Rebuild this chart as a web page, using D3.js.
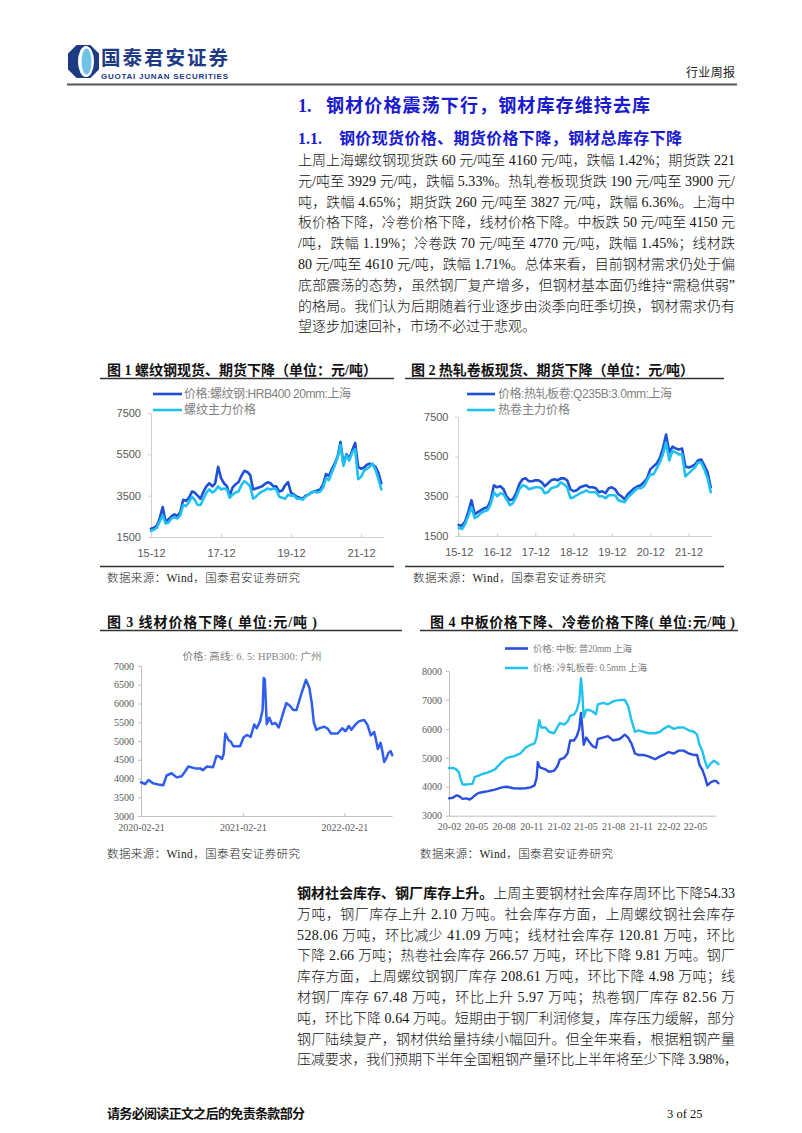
<!DOCTYPE html>
<html><head><meta charset="utf-8">
<script src="https://cdn.jsdelivr.net/npm/d3@7/dist/d3.min.js"></script>
<style>html,body{margin:0;padding:0;background:#fff;}svg{display:block;}</style>
</head><body>
<svg id="page" width="802" height="1133"></svg>
<script>
// ================= DATA =================
// Charts 1 & 2: monthly readings, Dec 2015 .. Jul 2022
const monthlyStart = "2015-12";
const rebarSpot = [1900,1950,2050,2400,2950,2250,2350,2500,2600,2500,2700,3300,
  3250,3400,3700,3650,3500,3350,3700,3950,4100,3950,4100,4900,
  4350,4100,3950,3500,3900,4050,4150,4450,4700,4650,4500,3800,
  3850,3900,3950,4050,4150,4100,3950,3950,3700,3750,4000,4150,
  3650,3550,3450,3400,3350,3500,3550,3650,3700,3750,3800,4050,
  4550,4450,4800,5050,5400,6100,5000,5500,5300,5700,6050,4900,
  4800,4850,5000,5050,5000,4900,4600,4100];
const rebarFutures = [1800,1850,1950,2250,2550,2150,2200,2400,2450,2400,2550,3050,
  3000,3200,3450,3300,3050,3050,3350,3650,3800,3650,3750,3950,
  3800,3850,3800,3400,3550,3650,3700,4000,4200,4100,3950,3350,
  3450,3600,3700,3750,3850,3800,3850,3800,3450,3400,3350,3550,
  3500,3500,3350,3350,3300,3450,3550,3650,3700,3650,3700,3900,
  4350,4250,4650,4950,5350,5950,4950,5450,5200,5600,5750,4300,
  4400,4700,4800,4900,5050,4750,4300,3800];
const hrcSpot = [2050,2000,2250,2700,3300,2600,2700,2800,2900,2950,3300,4050,
  3950,4000,3850,3500,3300,3350,3650,4100,4350,4400,4250,4250,
  4300,4300,4200,4000,4150,4300,4350,4300,4400,4400,4300,3850,
  3750,3800,3950,4000,4050,3950,3950,3900,3700,3750,3650,3900,
  3950,3850,3600,3500,3350,3600,3750,3900,4000,4050,4200,4400,
  4850,5000,5150,5400,5900,6600,5700,6000,5900,5850,5900,5000,
  4950,5000,5100,5300,5350,5050,4700,3950];
const hrcFutures = [1900,1850,2100,2500,2950,2400,2500,2650,2750,2800,3100,3700,
  3500,3650,3600,3350,3050,3150,3450,3850,4050,4000,3850,3900,
  3950,3950,3900,3650,3700,3900,3950,4000,4200,4100,3950,3400,
  3450,3550,3650,3700,3800,3700,3700,3700,3500,3500,3400,3550,
  3550,3550,3300,3250,3200,3450,3600,3750,3900,3900,4000,4300,
  4600,4600,4900,5200,5600,6200,5300,5800,5700,5600,5600,4500,
  4650,4800,4950,5200,5200,4850,4400,3700];
const chart1XTicks = ["2015-12","2017-12","2019-12","2021-12"];
const chart2XTicks = ["2015-12","2016-12","2017-12","2018-12","2019-12","2020-12","2021-12"];
const chart12YTicks = [1500,3500,5500,7500];
const chart1Legend = ["价格:螺纹钢:HRB400 20mm:上海","螺纹主力价格"];
const chart2Legend = ["价格:热轧板卷:Q235B:3.0mm:上海","热卷主力价格"];

// Chart 3: wire rod price, Guangzhou
const wireDates = ["2020-02-21","2020-03-07","2020-03-19","2020-04-05","2020-04-23","2020-05-11","2020-05-23","2020-06-10","2020-06-28","2020-07-16","2020-07-28","2020-08-09","2020-09-03","2020-09-21","2020-09-30","2020-10-15","2020-11-06","2020-11-18","2020-11-30","2020-12-08","2020-12-14","2020-12-20","2021-01-01","2021-01-09","2021-01-18","2021-02-11","2021-02-24","2021-03-08","2021-03-21","2021-04-03","2021-04-12","2021-04-24","2021-05-03","2021-05-07","2021-05-11","2021-05-18","2021-05-27","2021-06-06","2021-06-18","2021-06-30","2021-07-12","2021-07-27","2021-08-09","2021-08-21","2021-09-02","2021-09-12","2021-09-21","2021-10-06","2021-10-18","2021-10-27","2021-11-03","2021-11-12","2021-11-27","2021-12-11","2021-12-23","2022-01-04","2022-01-28","2022-02-13","2022-02-25","2022-03-09","2022-03-18","2022-04-03","2022-04-15","2022-05-03","2022-05-15","2022-05-27","2022-06-08","2022-06-14","2022-06-21","2022-07-01","2022-07-07","2022-07-14","2022-07-21","2022-07-30","2022-08-06","2022-08-12"];
const wireValues = [3900,3850,3960,3870,3840,3820,4080,4140,4030,4060,4180,4320,4270,4270,4220,4320,4300,4600,4580,4520,4650,5200,5020,4980,4860,4860,5100,5160,5110,5440,5340,5530,5820,6680,6640,5450,5620,5450,5480,5360,5650,6010,5940,5830,5830,6080,6300,6630,6420,6000,5500,5300,5350,5380,5330,5200,5200,5340,5260,5400,5300,5450,5530,5560,5430,5150,5240,5050,4790,4950,4740,4440,4530,4690,4730,4620];
const wireYTicks = [3000,3500,4000,4500,5000,5500,6000,6500,7000];
const wireXTicks = ["2020-02-21","2021-02-21","2022-02-21"];
const wireName = "价格: 高线: 6. 5: HPB300: 广州";

// Chart 4: medium plate & cold-rolled, Shanghai
const plateDates = ["2020-02-21","2020-03-05","2020-03-16","2020-03-25","2020-03-30","2020-04-06","2020-04-19","2020-04-30","2020-05-09","2020-05-17","2020-05-28","2020-06-14","2020-07-01","2020-07-23","2020-08-15","2020-09-01","2020-09-23","2020-10-16","2020-11-02","2020-11-19","2020-12-02","2020-12-09","2020-12-13","2020-12-18","2020-12-24","2021-01-08","2021-01-19","2021-02-05","2021-02-16","2021-02-25","2021-03-11","2021-03-22","2021-03-31","2021-04-13","2021-04-22","2021-04-30","2021-05-06","2021-05-10","2021-05-15","2021-05-23","2021-06-03","2021-06-14","2021-06-25","2021-07-01","2021-07-18","2021-08-04","2021-08-21","2021-09-12","2021-09-29","2021-10-10","2021-10-21","2021-11-02","2021-11-13","2021-11-30","2021-12-17","2022-01-08","2022-01-25","2022-02-05","2022-02-22","2022-03-11","2022-03-28","2022-04-13","2022-04-30","2022-05-17","2022-05-28","2022-06-05","2022-06-14","2022-06-23","2022-07-01","2022-07-12","2022-07-23","2022-07-31","2022-08-07"];
const plateValues = [3600,3620,3700,3680,3640,3580,3600,3560,3620,3700,3780,3820,3850,3900,3980,4000,3950,3940,3950,3980,4050,4300,4850,4700,4650,4600,4520,4550,4700,4950,5000,5150,5600,5600,5750,6000,6550,6100,5450,5700,5550,5400,5350,5650,5700,5750,5600,5650,5800,5700,5500,5150,5100,5100,5050,4950,5050,5100,5200,5150,5250,5250,5150,5100,5100,4750,4600,4350,4050,4150,4200,4200,4120];
const coldValues = [4650,4650,4600,4500,4300,4080,4080,4090,4100,4330,4380,4450,4500,4600,4850,5000,5050,5150,5350,5450,5500,5700,6000,6300,6050,6050,5900,5850,6050,6200,6150,6250,6450,6500,6650,6950,7750,7300,6400,6650,6650,6600,6500,6850,6900,6850,6950,7000,7000,6800,6300,5900,5950,5900,5850,5850,5900,6000,6100,6000,6050,6050,5950,5900,5800,5450,5250,4900,4650,4800,4900,4850,4780];
const chart4YTicks = [3000,4000,5000,6000,7000,8000];
const chart4XTicks = ["2020-02-21","2020-05-21","2020-08-21","2020-11-21","2021-02-21","2021-05-21","2021-08-21","2021-11-21","2022-02-21","2022-05-21"];
const chart4Legend = ["价格: 中板: 普20mm 上海","价格: 冷轧板卷: 0.5mm 上海"];

// Texts
const para1 = [
 "上周上海螺纹钢现货跌 60 元/吨至 4160 元/吨，跌幅 1.42%；期货跌 221",
 "元/吨至 3929 元/吨，跌幅 5.33%。热轧卷板现货跌 190 元/吨至 3900 元/",
 "吨，跌幅 4.65%；期货跌 260 元/吨至 3827 元/吨，跌幅 6.36%。上海中",
 "板价格下降，冷卷价格下降，线材价格下降。中板跌 50 元/吨至 4150 元",
 "/吨，跌幅 1.19%；冷卷跌 70 元/吨至 4770 元/吨，跌幅 1.45%；线材跌",
 "80 元/吨至 4610 元/吨，跌幅 1.71%。总体来看，目前钢材需求仍处于偏",
 "底部震荡的态势，虽然钢厂复产增多，但钢材基本面仍维持“需稳供弱”",
 "的格局。我们认为后期随着行业逐步由淡季向旺季切换，钢材需求仍有",
 "望逐步加速回补，市场不必过于悲观。"];
const para2Lead = "钢材社会库存、钢厂库存上升。";
const para2 = [
 "上周主要钢材社会库存周环比下降54.33",
 "万吨，钢厂库存上升 2.10 万吨。社会库存方面，上周螺纹钢社会库存",
 "528.06 万吨，环比减少 41.09 万吨；线材社会库存 120.81 万吨，环比",
 "下降 2.66 万吨；热卷社会库存 266.57 万吨，环比下降 9.81 万吨。钢厂",
 "库存方面，上周螺纹钢钢厂库存 208.61 万吨，环比下降 4.98 万吨；线",
 "材钢厂库存 67.48 万吨，环比上升 5.97 万吨；热卷钢厂库存 82.56 万",
 "吨，环比下降 0.64 万吨。短期由于钢厂利润修复，库存压力缓解，部分",
 "钢厂陆续复产，钢材供给量持续小幅回升。但全年来看，根据粗钢产量",
 "压减要求，我们预期下半年全国粗钢产量环比上半年将至少下降 3.98%，"];

// ================= DRAWING =================
const SERIF = '"Liberation Serif","Noto Sans CJK SC",serif';
const SANS = '"Liberation Sans","Noto Sans CJK SC",sans-serif';
const CJK = '"Noto Sans CJK SC",sans-serif';
const pm = d3.timeParse("%Y-%m");
const pd = d3.timeParse("%Y-%m-%d");
const svg = d3.select("#page");

function addText(parent, x, y, s, o = {}) {
  const t = parent.append("text").attr("x", x).attr("y", y).text(s)
    .style("font-family", o.family || SERIF).style("font-size", (o.size || 14) + "px")
    .style("font-weight", o.weight || 400).attr("fill", o.fill || "#111")
    .attr("text-anchor", o.anchor || "start");
  if (o.len) t.attr("textLength", o.len).attr("lengthAdjust", "spacing");
  return t;
}
function hline(x1, x2, y, color, w) {
  svg.append("line").attr("x1", x1).attr("x2", x2).attr("y1", y).attr("y2", y)
    .attr("stroke", color).attr("stroke-width", w);
}

// ---- header ----
const logo = svg.append("g");
logo.append("path").attr("d", "M77,46 L90,46 L98,54 L98,69 L90,77 L77,77 L69,69 L69,54 Z")
  .attr("fill", "#1d3a84").attr("stroke", "#1d3a84").attr("stroke-width", 2).attr("stroke-linejoin", "round");
logo.append("ellipse").attr("cx", 86).attr("cy", 61.5).attr("rx", 8).attr("ry", 15.5).attr("fill", "#fff");
logo.append("ellipse").attr("cx", 86.5).attr("cy", 61.5).attr("rx", 5).attr("ry", 13).attr("fill", "#6ec3e6");
addText(svg, 101, 64.5, "国泰君安证券", {family: CJK, size: 19.5, weight: 700, fill: "#1d3a84", len: 127});
addText(svg, 101, 78.5, "GUOTAI JUNAN SECURITIES", {family: SANS, size: 8, weight: 700, fill: "#1d3a84", len: 127});
addText(svg, 686, 77, "行业周报", {family: CJK, size: 12, fill: "#222", len: 49});
hline(67, 737, 84.5, "#555", 1.8);

// ---- headings ----
const BLUE = "#1a1ad0";
addText(svg, 298, 112, "1.", {family: SERIF, size: 18, weight: 700, fill: BLUE});
addText(svg, 326, 112, "钢材价格震荡下行，钢材库存维持去库", {family: CJK, size: 18, weight: 700, fill: BLUE, len: 324});
addText(svg, 298, 144, "1.1.", {family: SERIF, size: 16, weight: 700, fill: BLUE});
addText(svg, 339, 144, "钢价现货价格、期货价格下降，钢材总库存下降", {family: CJK, size: 16, weight: 700, fill: BLUE, len: 343});

// ---- paragraph 1 ----
para1.forEach((s, i) => {
  addText(svg, 298, 165 + i * 20.8, s, {size: 14, weight: 300, len: i < para1.length - 1 ? 437 : null});
});

// ---- chart frame texts ----
function chartFrame(o) {
  addText(svg, o.tx, o.ty, o.title, {family: SERIF, size: 14, weight: 700, fill: "#111", len: o.tlen});
  hline(o.lx1, o.lx2, o.ty + 3.5, "#333", 1.3);
  if (o.by) hline(o.lx1, o.lx2, o.by, "#333", 1.3);
  addText(svg, o.sx, o.sy, "数据来源：Wind，国泰君安证券研究", {family: SERIF, size: 11.5, weight: 300, fill: "#222", len: 193});
}
chartFrame({tx: 107, ty: 375, title: "图 1 螺纹钢现货、期货下降（单位：元/吨）", tlen: 270, lx1: 100, lx2: 394, by: 566.5, sx: 107, sy: 582});
chartFrame({tx: 411, ty: 375, title: "图 2 热轧卷板现货、期货下降（单位：元/吨）", tlen: 283, lx1: 405, lx2: 724, by: 566.5, sx: 413, sy: 582});
chartFrame({tx: 107, ty: 627, title: "图 3  线材价格下降( 单位:元/吨 )", tlen: 210, lx1: 100, lx2: 402, by: null, sx: 107, sy: 858});
chartFrame({tx: 430, ty: 627, title: "图 4 中板价格下降、冷卷价格下降( 单位:元/吨 )", tlen: 305, lx1: 420, lx2: 738, by: null, sx: 420, sy: 858});

// ---- generic time chart ----
function timeChart(o) {
  const g = svg.append("g");
  const cal = d3.scaleTime().domain(o.calDates).range(o.calX);
  const x = d3.scaleTime().domain([cal.invert(o.x0), cal.invert(o.x1)]).range([o.x0, o.x1]);
  const y = d3.scaleLinear().domain(o.yDomain).range(o.yRange);
  const xa = g.append("g").attr("transform", `translate(0,${o.yRange[0]})`)
    .call(d3.axisBottom(x).tickValues(o.xTicks).tickFormat(o.xFmt).tickSizeInner(o.xTickIn ? -3 : 0).tickSizeOuter(0));
  xa.select(".domain").attr("stroke", o.axisColor);
  xa.selectAll(".tick line").attr("stroke", o.axisColor);
  xa.selectAll("text").attr("y", o.xLabelOff).attr("dy", "0.35em").attr("fill", o.labelColor)
    .style("font-family", o.labelFont).style("font-size", o.labelSize + "px");
  const ya = g.append("g").attr("transform", `translate(${o.x0},0)`)
    .call(d3.axisLeft(y).tickValues(o.yTicks).tickFormat(d3.format("d")).tickSizeInner(3).tickSizeOuter(0).tickPadding(o.yPad));
  ya.select(".domain").attr("stroke", o.axisColor);
  ya.selectAll(".tick line").attr("stroke", o.axisColor);
  ya.selectAll("text").attr("fill", o.labelColor).style("font-family", o.labelFont).style("font-size", o.labelSize + "px");
  const ln = d3.line().x(d => x(d[0])).y(d => y(d[1]));
  o.series.forEach(s => {
    g.append("path").datum(s.dates.map((d, i) => [d, s.values[i]]))
      .attr("d", ln).attr("fill", "none").attr("stroke", s.color)
      .attr("stroke-width", s.width || 2.6).attr("stroke-linejoin", "round").attr("stroke-linecap", "round");
  });
  return g;
}

const months = d3.timeMonth.range(pm(monthlyStart), d3.timeMonth.offset(pm(monthlyStart), rebarSpot.length));
const DARK12 = "#1f4fd6", LIGHT12 = "#1fc1f2";

// Chart 1
timeChart({
  calDates: [pm("2015-12"), pm("2021-12")], calX: [151, 361], x0: 151, x1: 384,
  yDomain: [1500, 7500], yRange: [537, 413], yTicks: chart12YTicks, yPad: 7,
  xTicks: chart1XTicks.map(pm), xFmt: d3.timeFormat("%y-%m"), xTickIn: true, xLabelOff: 16,
  axisColor: "#d0d0d0", labelColor: "#595959", labelFont: SANS, labelSize: 11,
  series: [{dates: months, values: rebarSpot, color: DARK12}, {dates: months, values: rebarFutures, color: LIGHT12}]
});
// Chart 2
timeChart({
  calDates: [pm("2015-12"), pm("2021-12")], calX: [458.7, 688.5], x0: 458, x1: 712,
  yDomain: [1500, 7500], yRange: [536, 416.7], yTicks: chart12YTicks, yPad: 6.5,
  xTicks: chart2XTicks.map(pm), xFmt: d3.timeFormat("%y-%m"), xTickIn: true, xLabelOff: 16,
  axisColor: "#d0d0d0", labelColor: "#595959", labelFont: SANS, labelSize: 11,
  series: [{dates: months, values: hrcSpot, color: DARK12}, {dates: months, values: hrcFutures, color: LIGHT12}]
});
function legend(lx1, lx2, items, ys, size, lens, font, colors, tx) {
  items.forEach((s, i) => {
    svg.append("line").attr("x1", lx1).attr("x2", lx2).attr("y1", ys[i]).attr("y2", ys[i])
      .attr("stroke", colors[i]).attr("stroke-width", 2.6);
    addText(svg, tx, ys[i] + size * 0.36, s, {family: font, size: size, fill: "#7f7f7f", len: lens[i]});
  });
}
legend(153, 182, chart1Legend, [394, 410], 12, [167, 72], SANS, [DARK12, LIGHT12], 184);
legend(467, 495, chart2Legend, [394, 410], 12, [174, 72], SANS, [DARK12, LIGHT12], 498);

// Chart 3
timeChart({
  calDates: [pd("2020-02-21"), pd("2022-02-21")], calX: [141, 344.4], x0: 141, x1: 392,
  yDomain: [3000, 7000], yRange: [816, 666], yTicks: wireYTicks, yPad: 4,
  xTicks: wireXTicks.map(pd), xFmt: d3.timeFormat("%Y-%m-%d"), xTickIn: true, xLabelOff: 11,
  axisColor: "#bfbfbf", labelColor: "#595959", labelFont: SERIF, labelSize: 10,
  series: [{dates: wireDates.map(pd), values: wireValues, color: "#2f5ef0", width: 2.5}]
});
addText(svg, 252, 660, wireName, {family: SERIF, size: 10.5, fill: "#7f7f7f", anchor: "middle", len: 139});

// Chart 4
timeChart({
  calDates: [pd("2020-02-21"), pd("2022-05-21")], calX: [449, 695], x0: 449, x1: 716,
  yDomain: [3000, 8000], yRange: [815.7, 671], yTicks: chart4YTicks, yPad: 4,
  xTicks: chart4XTicks.map(pd), xFmt: d3.timeFormat("%y-%m"), xTickIn: false, xLabelOff: 11,
  axisColor: "#bfbfbf", labelColor: "#595959", labelFont: SERIF, labelSize: 10,
  series: [{dates: plateDates.map(pd), values: plateValues, color: "#2a4fe0", width: 2.4},
           {dates: plateDates.map(pd), values: coldValues, color: "#22c2ef", width: 2.4}]
});
legend(505, 528, chart4Legend, [648.5, 668], 9.5, [99, 114], SERIF, ["#2a4fe0", "#22c2ef"], 533);

// ---- paragraph 2 ----
para2.forEach((s, i) => {
  const t = svg.append("text").attr("x", 297).attr("y", 898 + i * 20.8)
    .style("font-family", SERIF).style("font-size", "14px").style("font-weight", 300).attr("fill", "#111")
    .attr("textLength", i === para2.length - 1 ? 441 : 438).attr("lengthAdjust", "spacing");
  if (i === 0) t.append("tspan").style("font-weight", 700).style("font-family", CJK).text(para2Lead);
  t.append("tspan").text(s);
});

// ---- footer ----
addText(svg, 107, 1118, "请务必阅读正文之后的免责条款部分", {family: CJK, size: 13, weight: 700, fill: "#111", len: 198});
addText(svg, 667, 1118, "3 of 25", {family: SERIF, size: 12.5, fill: "#111"});
</script>
</body></html>
